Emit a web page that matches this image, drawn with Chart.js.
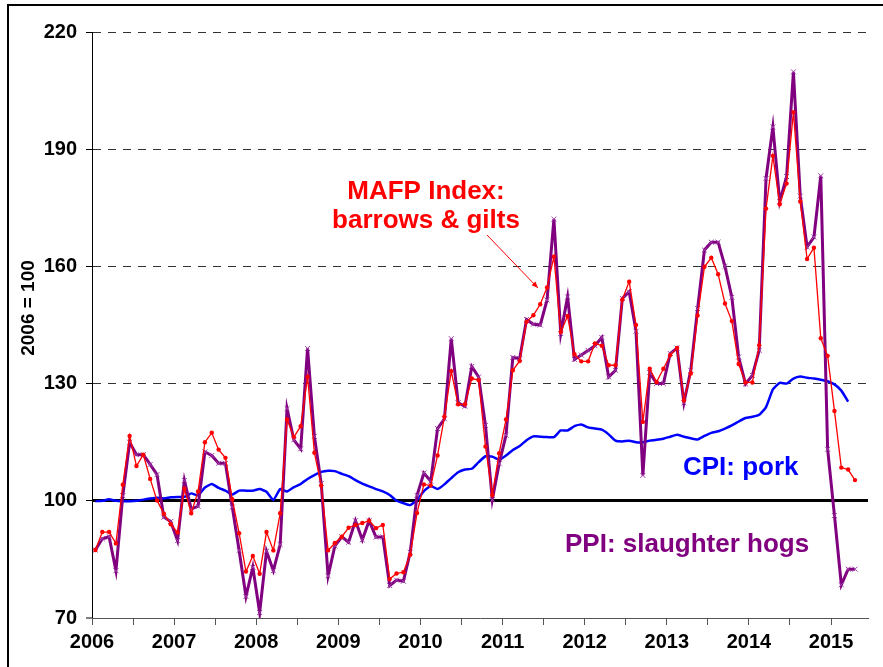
<!DOCTYPE html>
<html>
<head>
<meta charset="utf-8">
<script src="https://cdn.jsdelivr.net/npm/chart.js@4.4.1/dist/chart.umd.min.js"></script>
<style>
  html, body { margin: 0; padding: 0; background: #fff; }
  #wrap { width: 883px; height: 667px; }
</style>
</head>
<body>
<div id="wrap"><canvas id="hogChart" width="883" height="667"></canvas></div>
<script>
// monthly data, Jan 2006 .. Apr 2015 (index 2006 = 100)
const startYear = 2006;
const yearTicks = [2006, 2007, 2008, 2009, 2010, 2011, 2012, 2013, 2014, 2015];

const mafpIndex = [
    87.4, 92.0, 92.0, 89.1, 104.1, 116.6, 108.9, 111.8, 105.6, 100.1, 96.7, 94.0,
    91.9, 103.1, 96.8, 102.4, 115.0, 117.4, 113.1, 111.0, 100.4, 91.7, 81.9, 85.9,
    81.3, 92.0, 87.3, 96.8, 120.8, 116.3, 119.1, 131.7, 112.3, 103.9, 87.3, 89.2,
    90.8, 93.1, 93.8, 94.3, 94.9, 93.0, 93.8, 80.0, 81.4, 81.7, 86.2, 96.9,
    104.2, 103.9, 111.6, 121.5, 133.2, 124.7, 124.7, 131.3, 130.9, 113.9, 101.5, 112.2,
    120.8, 133.4, 135.8, 145.8, 147.5, 150.3, 154.6, 162.5, 143.2, 147.3, 137.5, 135.7,
    135.7, 140.3, 139.7, 134.7, 134.7, 151.5, 156.1, 145.0, 120.2, 133.8, 130.4, 133.8,
    137.3, 139.1, 125.7, 132.6, 147.4, 159.9, 162.2, 158.0, 150.5, 146.0, 135.0, 130.3,
    130.3, 139.8, 174.8, 188.3, 175.9, 181.2, 199.5, 176.6, 161.9, 164.8, 141.6, 137.1,
    123.0, 108.5, 108.0, 105.3
];

const ppiHogs = [
    87.4, 90.3, 90.8, 82.1, 101.3, 115.0, 111.8, 111.8, 109.3, 106.7, 95.8, 94.7,
    89.8, 105.2, 97.9, 98.6, 112.5, 111.6, 109.6, 109.6, 98.4, 87.3, 75.5, 83.0,
    71.4, 87.1, 82.1, 88.8, 123.6, 115.6, 113.3, 139.0, 116.5, 104.4, 80.8, 88.5,
    90.8, 89.4, 94.9, 90.0, 94.9, 90.7, 90.8, 78.3, 79.7, 79.4, 86.8, 101.4,
    107.1, 105.0, 118.5, 121.0, 141.5, 125.1, 124.2, 134.4, 131.7, 119.3, 100.3, 109.5,
    116.8, 136.7, 136.4, 146.4, 145.2, 145.0, 151.4, 172.1, 142.8, 152.2, 136.2, 137.3,
    138.5, 139.7, 141.8, 131.7, 133.4, 151.8, 153.5, 143.4, 106.5, 132.8, 130.0, 130.0,
    137.7, 139.1, 125.1, 133.4, 149.2, 164.2, 166.2, 166.2, 160.0, 152.1, 136.8, 129.9,
    132.1, 138.5, 182.5, 195.7, 176.6, 183.0, 209.8, 178.0, 165.0, 167.5, 183.2, 113.2,
    96.2, 78.5, 82.5, 82.5
];

const cpiPork = [
    99.9, 100.0, 100.4, 100.0, 99.9, 99.9, 100.0, 100.3, 100.6, 100.8, 100.6, 100.9,
    101.0, 101.0, 101.9, 101.4, 103.4, 104.3, 103.3, 102.6, 101.6, 102.6, 102.6, 102.6,
    103.0, 102.3, 100.2, 103.0, 102.4, 103.5, 104.3, 105.6, 106.6, 107.4, 107.7, 107.6,
    106.9, 106.3, 105.3, 104.4, 103.7, 103.0, 102.4, 101.5, 100.0, 99.4, 98.9, 100.2,
    102.5, 103.8, 103.0, 104.2, 105.8, 107.3, 108.0, 108.2, 109.9, 111.4, 111.3, 110.5,
    111.6, 113.0, 114.0, 115.5, 116.5, 116.4, 116.3, 116.3, 118.0, 118.0, 119.1, 119.5,
    118.8, 118.5, 118.2, 117.0, 115.4, 115.2, 115.4, 115.0, 115.0, 115.4, 115.6, 115.9,
    116.4, 116.9, 116.4, 116.0, 115.7, 116.6, 117.4, 117.8, 118.5, 119.3, 120.3, 121.2,
    121.5, 122.0, 124.0, 128.5, 130.2, 130.0, 131.3, 131.8, 131.5, 131.3, 131.0, 130.6,
    129.8, 128.2, 125.4
];

// month i sits in the middle of its month on the year axis
const monthPos = i => startYear + (i + 0.5) / 12;
const toPoints = arr => arr.map((v, i) => ({ x: monthPos(i), y: v }));

const boldFont = size => ({ family: "'Liberation Sans', Arial, sans-serif", size: size, weight: 'bold' });

// frame, axis title and text labels
const decorations = {
    id: 'decorations',
    beforeDraw(chart) {
        const ctx = chart.ctx;
        ctx.save();
        ctx.fillStyle = '#fff';
        ctx.fillRect(0, 0, chart.width, chart.height);
        ctx.restore();
    },
    afterDraw(chart) {
        const ctx = chart.ctx;
        ctx.save();
        // outer frame (cut off at right and bottom)
        ctx.strokeStyle = '#000';
        ctx.lineWidth = 2;
        ctx.strokeRect(8, 5, 900, 700);

        // y axis title
        ctx.font = "bold 19px 'Liberation Sans', Arial";
        ctx.fillStyle = '#000';
        ctx.textAlign = 'center';
        ctx.textBaseline = 'middle';
        ctx.translate(29, 308);
        ctx.rotate(-Math.PI / 2);
        ctx.fillText('2006 = 100', 0, 0);
        ctx.restore();

        ctx.save();
        ctx.font = "bold 26px 'Liberation Sans', Arial";
        ctx.textAlign = 'center';
        ctx.textBaseline = 'alphabetic';
        ctx.fillStyle = '#ff0000';
        ctx.fillText('MAFP Index:', 426, 199);
        ctx.fillText('barrows & gilts', 426, 228);

        // arrow to the MAFP line
        const x1 = 487, y1 = 235, x2 = 538, y2 = 288;
        ctx.strokeStyle = '#ff0000';
        ctx.lineWidth = 1;
        ctx.beginPath();
        ctx.moveTo(x1, y1);
        ctx.lineTo(x2, y2);
        ctx.stroke();
        const ang = Math.atan2(y2 - y1, x2 - x1);
        ctx.beginPath();
        ctx.moveTo(x2, y2);
        ctx.lineTo(x2 - 7 * Math.cos(ang - 0.4), y2 - 7 * Math.sin(ang - 0.4));
        ctx.lineTo(x2 - 7 * Math.cos(ang + 0.4), y2 - 7 * Math.sin(ang + 0.4));
        ctx.closePath();
        ctx.fill();

        ctx.fillStyle = '#0000ff';
        ctx.textAlign = 'left';
        ctx.fillText('CPI: pork', 683, 475);

        ctx.fillStyle = '#800080';
        ctx.fillText('PPI: slaughter hogs', 565, 552);
        ctx.restore();
    }
};

const hogCtx = document.getElementById('hogChart').getContext('2d');
const hogChart = new Chart(hogCtx, {
    type: 'line',
    data: {
        datasets: [
            {
                label: 'MAFP Index: barrows & gilts',
                data: toPoints(mafpIndex),
                borderColor: '#ff0000',
                backgroundColor: '#ff0000',
                borderWidth: 1.3,
                pointStyle: 'circle',
                pointRadius: 2.2,
                pointBorderWidth: 0,
                tension: 0,
                order: 0
            },
            {
                label: 'PPI: slaughter hogs',
                data: toPoints(ppiHogs),
                borderColor: '#800080',
                backgroundColor: '#800080',
                borderWidth: 3,
                pointStyle: 'crossRot',
                pointRadius: 3.5,
                pointBorderColor: '#a040a8',
                pointBorderWidth: 1,
                tension: 0,
                order: 1
            },
            {
                label: 'CPI: pork',
                data: toPoints(cpiPork),
                borderColor: '#0000ff',
                borderWidth: 2.5,
                pointRadius: 0,
                tension: 0.15,
                order: 2
            }
        ]
    },
    options: {
        responsive: false,
        animation: false,
        devicePixelRatio: 1,
        layout: { padding: { left: 0, top: 32, right: 15, bottom: 0 } },
        plugins: {
            legend: { display: false },
            tooltip: { enabled: false }
        },
        scales: {
            x: {
                type: 'linear',
                min: startYear,
                max: 2015.45,
                border: { color: '#555', width: 1 },
                grid: { drawOnChartArea: false, tickLength: 7, tickColor: '#555', tickWidth: 1 },
                ticks: {
                    stepSize: 0.5,
                    autoSkip: false,
                    includeBounds: false,
                    maxRotation: 0,
                    padding: 5,
                    color: '#000',
                    font: boldFont(20),
                    callback: v => yearTicks.includes(v) ? String(v) : ''
                },
                afterFit: s => { s.height = 49; }
            },
            y: {
                min: 70,
                max: 220,
                border: {
                    color: '#000',
                    width: 1,
                    dash: c => (c.tick && c.tick.value !== 100) ? [8, 7] : []
                },
                grid: {
                    color: c => c.tick && c.tick.value === 100 ? '#000' : '#333',
                    lineWidth: c => {
                        if (!c.tick) return 1;
                        if (c.tick.value === 100) return 3;
                        if (c.tick.value === 70) return 0;
                        return 1;
                    },
                    tickLength: 6,
                    tickColor: '#000',
                    tickWidth: 1
                },
                ticks: {
                    stepSize: 30,
                    padding: 9,
                    color: '#000',
                    font: boldFont(20)
                },
                afterFit: s => { s.width = 92; }
            }
        }
    },
    plugins: [decorations]
});
</script>
</body>
</html>
